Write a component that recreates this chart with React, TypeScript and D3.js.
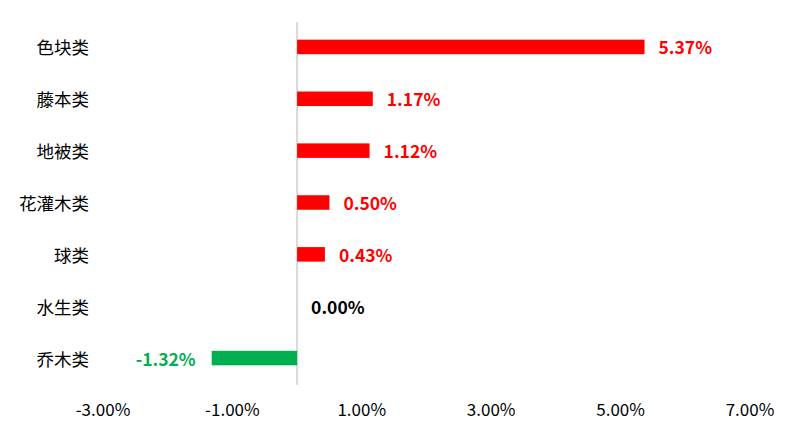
import React from "react";
import * as d3 from "d3";

const categories = ["色块类", "藤本类", "地被类", "花灌木类", "球类", "水生类", "乔木类"];
const values = [5.37, 1.17, 1.12, 0.5, 0.43, 0.0, -1.32];
const tickValues = [-3, -1, 1, 3, 5, 7];

const W = 799;
const H = 435;

export default function App() {
  const x = d3.scaleLinear().domain([-3, 7]).range([103, 750]);
  const y = d3
    .scaleBand<string>()
    .domain(categories)
    .range([21, 384])
    .paddingInner(0.72)
    .paddingOuter(0.36);
  const bw = y.bandwidth();
  const fontCN = "'Microsoft YaHei', 'Noto Sans CJK SC', sans-serif";
  const color = (v: number) => (v > 0 ? "#ff0000" : v < 0 ? "#00b050" : "#000000");
  return (
    <div style={{ position: "absolute", left: 0, top: 0 }}>
      <svg width={W} height={H} style={{ display: "block", background: "#fff" }}>
        <line x1={x(0)} x2={x(0)} y1={22} y2={385} stroke="#d9d9d9" strokeWidth={2} />
        {categories.map((c, i) => {
          const v = values[i];
          const yc = (y(c) as number) + bw / 2;
          const x0 = x(Math.min(0, v));
          const x1 = x(Math.max(0, v));
          return (
            <g key={c}>
              <text
                x={89}
                y={yc}
                textAnchor="end"
                dominantBaseline="central"
                fontFamily={fontCN}
                fontSize={17.5}
                fill="#000"
              >
                {c}
              </text>
              {v !== 0 && (
                <rect x={x0} y={y(c)} width={x1 - x0} height={bw} fill={color(v)} />
              )}
              <text
                x={v >= 0 ? x1 + 14 : x0 - 16}
                y={yc}
                textAnchor={v >= 0 ? "start" : "end"}
                dominantBaseline="central"
                fontFamily={fontCN}
                fontWeight="bold"
                fontSize={17.5}
                fill={color(v)}
              >
                {v.toFixed(2) + "%"}
              </text>
            </g>
          );
        })}
        {tickValues.map((t) => (
          <text
            key={t}
            x={x(t)}
            y={408}
            textAnchor="middle"
            dominantBaseline="central"
            fontFamily={fontCN}
            fontSize={17}
            fill="#000"
          >
            {t.toFixed(2) + "%"}
          </text>
        ))}
      </svg>
    </div>
  );
}
